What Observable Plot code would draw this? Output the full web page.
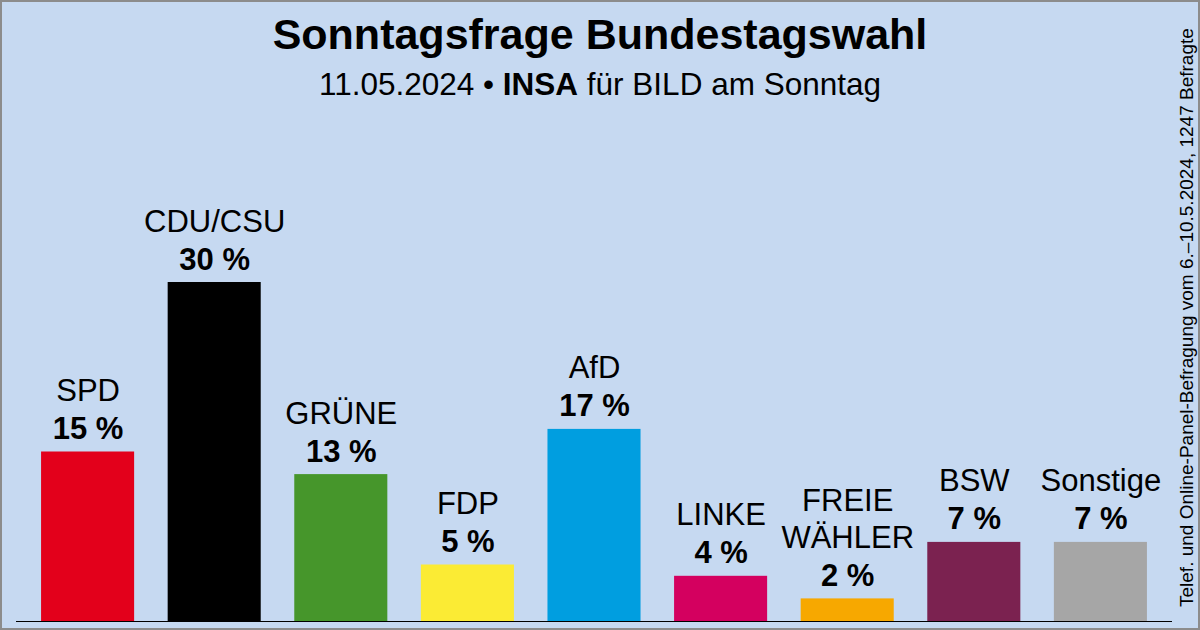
<!DOCTYPE html>
<html>
<head>
<meta charset="utf-8">
<script src="https://cdn.jsdelivr.net/npm/d3@7"></script>
<script src="https://cdn.jsdelivr.net/npm/@observablehq/plot@0.6"></script>
<style>
  html, body { margin:0; padding:0; background:#c6d9f1; }
  #wrap { position:relative; width:1200px; height:630px; background:#c6d9f1; overflow:hidden; font-family:"Liberation Sans", Arial, sans-serif; color:#000; }
  #chart { position:absolute; left:0; top:0; }
  #title { position:absolute; left:0; top:13px; width:1200px; text-align:center; font-size:43px; font-weight:bold; line-height:1; }
  #subtitle { position:absolute; left:0; top:69px; width:1200px; text-align:center; font-size:31.5px; line-height:1; }
  #note { position:absolute; left:1177px; top:607px; transform-origin:0 0; transform:rotate(-90deg); white-space:nowrap; font-size:19px; line-height:1; }
  #border { position:absolute; left:0; top:0; width:1200px; height:630px; box-sizing:border-box; border:2px solid #8c8c8c; pointer-events:none; }
</style>
</head>
<body>
<div id="wrap">
  <div id="chart"></div>
  <div id="title">Sonntagsfrage Bundestagswahl</div>
  <div id="subtitle">11.05.2024 • <b>INSA</b> für BILD am Sonntag</div>
  <div id="note">Telef. und Online-Panel-Befragung vom 6.–10.5.2024, 1247 Befragte</div>
  <div id="border"></div>
</div>
<script>
const parties = ["SPD", "CDU/CSU", "GRÜNE", "FDP", "AfD", "LINKE", "FREIE WÄHLER", "BSW", "Sonstige"];
const labels  = ["SPD", "CDU/CSU", "GRÜNE", "FDP", "AfD", "LINKE", "FREIE\nWÄHLER", "BSW", "Sonstige"];
const values  = [15, 30, 13, 5, 17, 4, 2, 7, 7];
const colors  = ["#e3001b", "#000000", "#46962b", "#fbeb34", "#009ee0", "#d4005f", "#f7a800", "#7b2250", "#a6a6a6"];

const data = parties.map((p, i) => ({party: p, label: labels[i], value: values[i]}));

const chart = Plot.plot({
  width: 1200,
  height: 630,
  marginLeft: 16,
  marginRight: 28,
  marginTop: 282,
  marginBottom: 9,
  x: {domain: parties, paddingInner: 0.265, paddingOuter: 0.198, round: false, axis: null},
  y: {domain: [0, 30], axis: null},
  color: {domain: parties, range: colors},
  style: {background: "transparent", fontFamily: "'Liberation Sans', Arial, sans-serif", overflow: "visible"},
  marks: [
    Plot.barY(data, {x: "party", y: "value", fill: "party"}),
    Plot.ruleY([0], {stroke: "black", strokeWidth: 1}),
    Plot.text(data, {x: "party", y: "value", text: d => d.value + " %", dy: -13, lineAnchor: "bottom", fontSize: 31, fontWeight: "bold", fill: "black"}),
    Plot.text(data, {x: "party", y: "value", text: "label", dy: -51, lineAnchor: "bottom", fontSize: 31, lineHeight: 1.19, fill: "black"})
  ]
});
document.getElementById("chart").appendChild(chart);
</script>
</body>
</html>
